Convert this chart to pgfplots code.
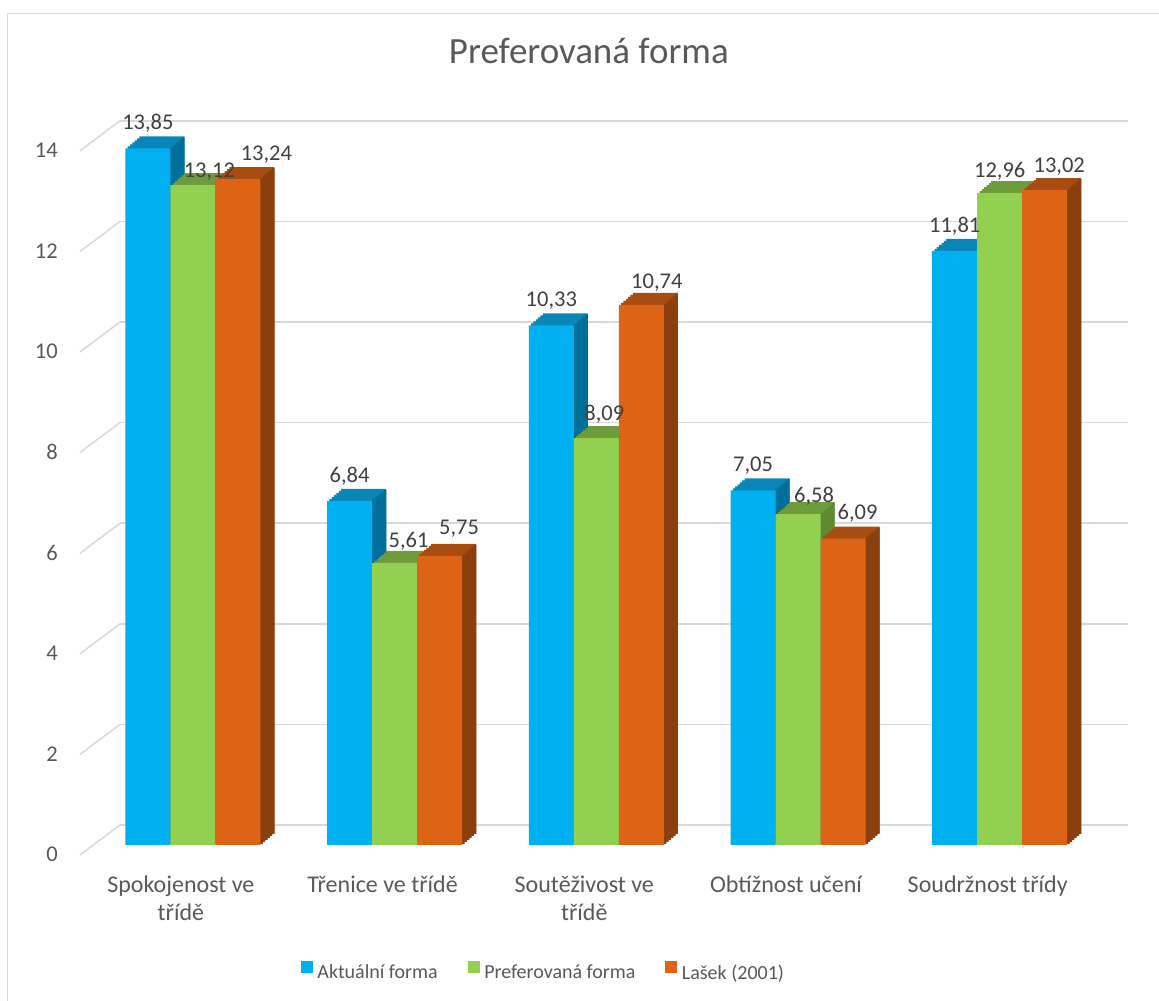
\documentclass[border=0pt]{standalone}
\usepackage{fontspec}
\setmainfont{Carlito}
\usepackage{pgfplots}
\usepackage{pgfplotstable}
\pgfplotsset{compat=1.18}
\pgfkeys{/pgf/number format/assume math mode=true}
\definecolor{bluefront}{HTML}{00B0F0}
\definecolor{bluetop}{HTML}{0A85B8}
\definecolor{blueside}{HTML}{00709A}
\definecolor{greenfront}{HTML}{92D050}
\definecolor{greentop}{HTML}{6E9C3C}
\definecolor{greenside}{HTML}{5E8A30}
\definecolor{orangefront}{HTML}{DD6415}
\definecolor{orangetop}{HTML}{A84D11}
\definecolor{orangeside}{HTML}{8A3F0C}
\definecolor{gridc}{HTML}{D9D9D9}
\definecolor{txt}{HTML}{595959}
\definecolor{lbl}{HTML}{404040}

\pgfplotstableread{
x y lx ly
0 13.85 -45 18.5
1 6.84 -45 18.5
2 10.33 -45 18.5
3 7.05 -45 18.5
4 11.81 -45 18.5
}\bluedata
\pgfplotstableread{
x y lx ly
0 13.12 16.5 8
1 5.61 14 15
2 8.09 8 18
3 6.58 16 12
4 12.96 0 16
}\greendata
\pgfplotstableread{
x y lx ly
0 13.24 73.5 18.5
1 5.75 64.5 21
2 10.74 60.5 16.5
3 6.09 59.5 18.7
4 13.02 59.5 17.3
}\orangedata

\pgfplotsset{
  face/.style n args={4}{ybar, bar width=#1, bar shift=#2, draw=none, fill=#3, forget plot, #4},
  sq/.style={legend image code/.code={\fill[#1] (0pt,-1pt) rectangle (12pt,11pt);}},
  lab/.style={draw=none, mark=none, forget plot,
    visualization depends on={\thisrow{lx} \as \lx},
    visualization depends on={\thisrow{ly} \as \ly},
    nodes near coords={\pgfmathprintnumber[fixed,fixed zerofill,precision=2,use comma]{\pgfplotspointmeta}},
    every node near coord/.append style={anchor=base, inner sep=0pt, xshift=\lx*1pt, yshift=\ly*1pt,
      font=\fontsize{22.5}{27}\selectfont, text=lbl}},
}
% 3D depth of one series: #1 table, #2 bar shift (pt number), #3 colour prefix
\newcommand\threed[3]{%
  \pgfplotsinvokeforeach{6,5,4,3,2,1}{\addplot[face={45pt}{#2pt}{#3top}{xshift=##1*2.333pt,yshift=##1*2pt}] table[x=x,y=y] {#1};}
  \pgfplotsinvokeforeach{0,...,5}{\addplot[face={2.7pt}{#2pt+22.5pt+(##1+0.5)*2.333pt}{#3side}{yshift=(##1+0.5)*2pt}] table[x=x,y=y] {#1};}
}
\newcommand\st{\rule{0pt}{22pt}}

\begin{document}
\begin{tikzpicture}
\useasboundingbox (0,0) rectangle (1159pt,1001pt);
\draw[gridc, line width=1.5pt] (7.5pt,0pt) -- (7.5pt,987.5pt) -- (1159pt,987.5pt);
\node[anchor=base, font=\fontsize{37}{40}\selectfont, text=txt] at (588.8pt,937.7pt) {Preferovaná forma};
\begin{axis}[
  at={(120pt,156pt)}, anchor=south west,
  scale only axis, width=1008pt, height=704.2pt,
  xmin=-0.3614, xmax=4.636, ymin=0, ymax=14,
  axis line style={draw=none}, major tick length=0pt,
  clip=false,
  xtick={0,...,4},
  xticklabels={{\st Spokojenost ve\\třídě}, {\st Třenice ve třídě}, {\st Soutěživost ve\\třídě}, {\st Obtížnost učení}, {\st Soudržnost třídy}},
  xticklabel style={anchor=north, yshift=-25pt, xshift=-12pt, align=center, inner sep=0pt,
    font=\fontsize{24}{28}\selectfont, text=txt},
  ytick={0,2,...,14},
  yticklabel style={anchor=east, inner sep=0pt, xshift=-62pt, yshift=-9.5pt,
    font=\fontsize{22.5}{27}\selectfont, text=txt},
  ymajorgrids, major grid style={gridc, line width=1.5pt, yshift=20pt},
  legend columns=3,
  legend style={at={(axis description cs:0.1793,-0.1789)}, anchor=west, draw=none, fill=none,
    inner sep=0pt, font=\fontsize{20}{24}\selectfont, text=txt,
    nodes={inner sep=0pt},
    /tikz/every even column/.append style={column sep=30pt},
    /tikz/every odd column/.append style={column sep=4.5pt}},
]
\pgfplotsinvokeforeach{0,2,...,14}{\draw[gridc, line width=1.5pt] (axis cs:-0.3614,#1) ++(0pt,20pt) -- ++(-40pt,-30pt);}

% blue
\threed{\bluedata}{-45}{blue}
\addplot[ybar, bar width=45pt, bar shift=-45pt, draw=none, fill=bluefront, sq=bluefront] table[x=x,y=y] {\bluedata};
\addlegendentry{Aktuální forma}
% green
\threed{\greendata}{0}{green}
\addplot[ybar, bar width=45pt, bar shift=0pt, draw=none, fill=greenfront, sq=greenfront] table[x=x,y=y] {\greendata};
\addlegendentry{Preferovaná forma}
% orange
\threed{\orangedata}{45}{orange}
\addplot[ybar, bar width=45pt, bar shift=45pt, draw=none, fill=orangefront, sq=orangefront] table[x=x,y=y] {\orangedata};
\addlegendentry{Lašek (2001)}
% labels
\addplot[lab] table[x=x,y=y] {\bluedata};
\addplot[lab] table[x=x,y=y] {\greendata};
\addplot[lab] table[x=x,y=y] {\orangedata};
\end{axis}
\end{tikzpicture}
\end{document}
